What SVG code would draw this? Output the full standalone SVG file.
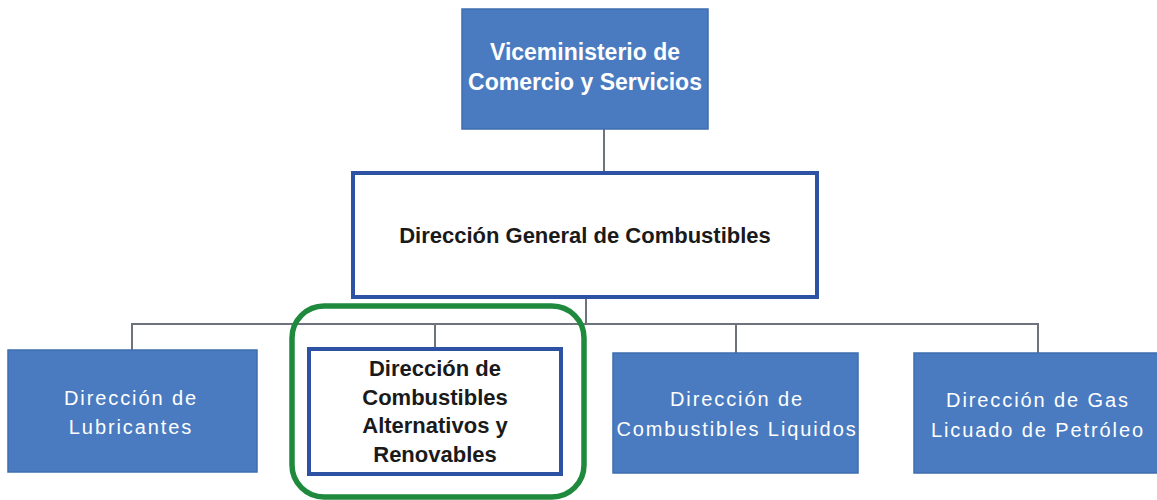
<svg xmlns="http://www.w3.org/2000/svg" width="1157" height="500" viewBox="0 0 1157 500">
<style>
.bluebox{fill:#4a7bc0;stroke:#3f6db0;stroke-width:1.5}
.whitebox{fill:#ffffff;stroke:#2d52a3;stroke-width:4}
.conn{stroke:#6e727c;stroke-width:2;fill:none}
.bw{font-family:"Liberation Sans",Arial,sans-serif;font-weight:bold;fill:#ffffff;text-anchor:middle}
.bk{font-family:"Liberation Sans",Arial,sans-serif;font-weight:bold;fill:#1a1a1a;text-anchor:middle}
.lw{font-family:"Liberation Sans",Arial,sans-serif;font-size:20px;fill:#ffffff;text-anchor:middle;letter-spacing:1.9px}
</style>
<rect width="1157" height="500" fill="#ffffff"/>
<g id="connectors">
<line class="conn" x1="604" y1="129" x2="604" y2="173"/>
<line class="conn" x1="586" y1="297" x2="586" y2="324"/>
<polyline class="conn" points="132,350 132,324 1038,324 1038,353"/>
<line class="conn" x1="435" y1="324" x2="435" y2="349"/>
<line class="conn" x1="736" y1="324" x2="736" y2="353"/>
</g>
<g id="viceministerio">
<rect class="bluebox" x="462" y="9" width="246" height="120"/>
<text class="bw" font-size="23" x="585" y="60">Viceministerio de</text>
<text class="bw" font-size="23" x="585" y="90">Comercio y Servicios</text>
</g>
<g id="direccion-general">
<rect class="whitebox" x="353" y="173" width="464" height="124"/>
<text class="bk" font-size="22" x="585" y="243">Dirección General de Combustibles</text>
</g>
<g id="lubricantes">
<rect class="bluebox" x="8" y="350" width="249" height="122"/>
<text class="lw" x="131" y="405">Dirección de</text>
<text class="lw" x="131" y="434">Lubricantes</text>
</g>
<g id="alternativos">
<rect x="292" y="306" width="292" height="191" rx="32" ry="32" fill="none" stroke="#1f8a3e" stroke-width="5.5"/>
<rect class="whitebox" x="309" y="349" width="252" height="125"/>
<text class="bk" font-size="22" x="435" y="376">Dirección de</text>
<text class="bk" font-size="22" x="435" y="405">Combustibles</text>
<text class="bk" font-size="22" x="435" y="433">Alternativos y</text>
<text class="bk" font-size="22" x="435" y="462">Renovables</text>
</g>
<g id="liquidos">
<rect class="bluebox" x="613" y="353" width="245" height="120"/>
<text class="lw" x="737" y="406">Dirección de</text>
<text class="lw" x="737" y="436">Combustibles Liquidos</text>
</g>
<g id="gas">
<rect class="bluebox" x="914" y="353" width="250" height="120"/>
<text class="lw" x="1038" y="407">Dirección de Gas</text>
<text class="lw" x="1038" y="437">Licuado de Petróleo</text>
</g>
</svg>
